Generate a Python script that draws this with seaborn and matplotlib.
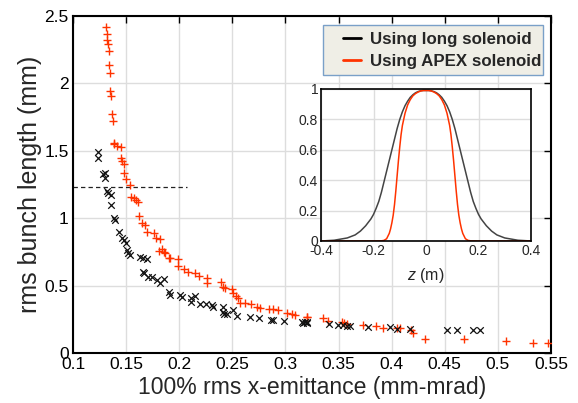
import numpy as np
import pandas as pd
import matplotlib
matplotlib.use('Agg')
import matplotlib.pyplot as plt
from matplotlib import patches
import seaborn as sns

# long solenoid scan (black x)
long_emit = [0.1238, 0.1238, 0.1285, 0.1300, 0.1300, 0.1317, 0.1330, 0.1360, 0.1355, 0.1386,
             0.1395, 0.1433, 0.1458, 0.1480, 0.1500, 0.1505, 0.1520, 0.1534, 0.1630, 0.1660,
             0.1700, 0.1660, 0.1670, 0.1710, 0.1740, 0.1788, 0.1820, 0.1860, 0.1900, 0.1910,
             0.2007, 0.2030, 0.2110, 0.2115, 0.2150, 0.2196, 0.2252, 0.2306, 0.2315, 0.2410,
             0.2415, 0.2425, 0.2452, 0.2510, 0.2540, 0.2667, 0.2750, 0.2860, 0.2886, 0.2987,
             0.3153, 0.3184, 0.3206, 0.3168, 0.3200, 0.3413, 0.3498, 0.3545, 0.3577, 0.3608,
             0.3780, 0.3980, 0.4047, 0.4173, 0.4518, 0.4612, 0.4768, 0.4832]
long_len = [1.490, 1.444, 1.328, 1.335, 1.296, 1.200, 1.185, 1.172, 1.098, 0.999,
            0.987, 0.900, 0.851, 0.838, 0.814, 0.764, 0.740, 0.727, 0.710, 0.702,
            0.697, 0.603, 0.590, 0.566, 0.566, 0.540, 0.517, 0.547, 0.455, 0.430,
            0.430, 0.418, 0.406, 0.380, 0.423, 0.363, 0.363, 0.356, 0.343, 0.339,
            0.306, 0.287, 0.290, 0.319, 0.277, 0.269, 0.257, 0.245, 0.245, 0.240,
            0.232, 0.228, 0.228, 0.225, 0.225, 0.215, 0.208, 0.208, 0.200, 0.200,
            0.190, 0.190, 0.176, 0.176, 0.171, 0.171, 0.171, 0.171]

# APEX solenoid scan (red +)
apex_emit = [0.131, 0.132, 0.132, 0.133, 0.134, 0.134, 0.135, 0.135, 0.136, 0.137,
             0.138, 0.139, 0.139, 0.141, 0.145, 0.145, 0.146, 0.148, 0.148, 0.150,
             0.154, 0.155, 0.157, 0.159, 0.1615, 0.1625, 0.1647, 0.1678, 0.170, 0.1765,
             0.1784, 0.182, 0.181, 0.184, 0.186, 0.187, 0.190, 0.1913, 0.1985, 0.1991,
             0.2045, 0.2086, 0.2149, 0.219, 0.226, 0.226, 0.2393, 0.2415, 0.243, 0.2494,
             0.251, 0.2535, 0.2556, 0.257, 0.262, 0.2673, 0.273, 0.276, 0.2848, 0.2886,
             0.2933, 0.3012, 0.306, 0.309, 0.3206, 0.3200, 0.3357, 0.3404, 0.353, 0.3555,
             0.3577, 0.3734, 0.3853, 0.3916, 0.4047, 0.4078, 0.418, 0.4198, 0.4314, 0.4684,
             0.508, 0.5328, 0.547]
apex_len = [2.416, 2.364, 2.320, 2.290, 2.240, 2.140, 2.075, 1.940, 1.905, 1.770,
            1.720, 1.560, 1.550, 1.535, 1.525, 1.450, 1.427, 1.400, 1.333, 1.293,
            1.246, 1.160, 1.147, 1.135, 1.118, 1.016, 0.962, 0.950, 0.898, 0.888,
            0.855, 0.846, 0.759, 0.772, 0.750, 0.740, 0.705, 0.702, 0.697, 0.645,
            0.620, 0.603, 0.591, 0.573, 0.559, 0.522, 0.524, 0.492, 0.480, 0.472,
            0.443, 0.423, 0.410, 0.373, 0.369, 0.361, 0.343, 0.336, 0.326, 0.324,
            0.319, 0.294, 0.289, 0.282, 0.269, 0.265, 0.257, 0.240, 0.232, 0.225,
            0.215, 0.208, 0.200, 0.188, 0.183, 0.183, 0.170, 0.146, 0.102, 0.102,
            0.091, 0.076, 0.072]

long_z_half = [-0.40, -0.35, -0.30, -0.27, -0.25, -0.23, -0.21, -0.20, -0.19, -0.18,
               -0.17, -0.16, -0.15, -0.14, -0.13, -0.12, -0.11, -0.10, -0.09, -0.08,
               -0.07, -0.06, -0.05, -0.04, -0.03, -0.02, -0.01, 0.0]
long_b_half = [0.0, 0.005, 0.02, 0.04, 0.065, 0.10, 0.145, 0.175, 0.215, 0.26,
               0.32, 0.39, 0.46, 0.53, 0.60, 0.67, 0.74, 0.80, 0.85, 0.89,
               0.92, 0.945, 0.962, 0.975, 0.983, 0.988, 0.99, 0.99]
apex_z_half = [-0.40, -0.20, -0.17, -0.16, -0.15, -0.14, -0.135, -0.13, -0.125, -0.12,
               -0.115, -0.11, -0.105, -0.10, -0.095, -0.09, -0.08, -0.07, -0.06, -0.05,
               -0.04, -0.03, -0.02, -0.01, 0.0]
apex_b_half = [0.0, 0.0, 0.001, 0.004, 0.015, 0.05, 0.08, 0.12, 0.17, 0.24,
               0.33, 0.43, 0.53, 0.62, 0.70, 0.76, 0.84, 0.895, 0.93, 0.955,
               0.97, 0.98, 0.987, 0.99, 0.99]

dash_y = 1.23
dash_x_end = 0.207

long_z = long_z_half + [-z for z in long_z_half[-2::-1]]
long_b = long_b_half + long_b_half[-2::-1]
apex_z = apex_z_half + [-z for z in apex_z_half[-2::-1]]
apex_b = apex_b_half + apex_b_half[-2::-1]

black = '#111111'
red = '#ff3300'

sns.set_style('white')
plt.rcParams['font.family'] = ['Liberation Sans', 'DejaVu Sans']
plt.rcParams['mathtext.fontset'] = 'custom'
plt.rcParams['mathtext.it'] = 'Liberation Sans:italic'
plt.rcParams['xtick.direction'] = 'in'
plt.rcParams['ytick.direction'] = 'in'

fig = plt.figure(figsize=(5.78, 4.03), dpi=100)
ax = fig.add_axes([0.1263, 0.1241, 0.827, 0.8362])

df_long = pd.DataFrame({'emit': long_emit, 'len': long_len})
df_apex = pd.DataFrame({'emit': apex_emit, 'len': apex_len})
sns.scatterplot(data=df_apex, x='emit', y='len', marker='+', s=30, color=red,
                linewidth=1.0, ax=ax, zorder=3)
sns.scatterplot(data=df_long, x='emit', y='len', marker='x', s=22, color=black,
                linewidth=0.9, ax=ax, zorder=3)
ax.hlines(dash_y, 0.1, dash_x_end, colors='#222222', linestyles=(0, (3.5, 2.5)), linewidth=0.9)

ax.set_xlim(0.1, 0.55)
ax.set_ylim(0, 2.5)
ax.set_xticks(np.arange(0.1, 0.551, 0.05))
ax.set_xticklabels(['0.1', '0.15', '0.2', '0.25', '0.3', '0.35', '0.4', '0.45', '0.5', '0.55'])
ax.set_yticks(np.arange(0, 2.51, 0.5))
ax.set_yticklabels(['0', '0.5', '1', '1.5', '2', '2.5'])
ax.grid(True, color='#dddddd', linewidth=1.0)
ax.tick_params(labelsize=12.5, top=True, right=True, length=5, width=1, colors='black', pad=3)
for s in ax.spines.values():
    s.set_linewidth(1.5)
    s.set_color('black')
ax.set_xlabel('100% rms x-emittance (mm-mrad)', fontsize=16.6, labelpad=2.5)
ax.set_ylabel('rms bunch length (mm)', fontsize=18, labelpad=1.5)

# inset
axi = fig.add_axes([0.5554, 0.402, 0.3633, 0.3772])
df_lz = pd.DataFrame({'z': long_z, 'b': long_b})
df_az = pd.DataFrame({'z': apex_z, 'b': apex_b})
sns.lineplot(data=df_lz, x='z', y='b', color='#444444', linewidth=1.1, sort=False,
             ax=axi, label='Using long solenoid')
sns.lineplot(data=df_az, x='z', y='b', color=red, linewidth=1.1, sort=False,
             ax=axi, label='Using APEX solenoid')
axi.set_xlim(-0.4, 0.4)
axi.set_ylim(0, 1)
axi.set_xticks([-0.4, -0.2, 0, 0.2, 0.4])
axi.set_xticklabels(['-0.4', '-0.2', '0', '0.2', '0.4'])
axi.set_yticks([0, 0.2, 0.4, 0.6, 0.8, 1])
axi.set_yticklabels(['0', '0.2', '0.4', '0.6', '0.8', '1'])
axi.grid(True, color='#dddddd', linewidth=1.0)
axi.tick_params(labelsize=10, length=3, pad=2)
for s in axi.spines.values():
    s.set_linewidth(1.2)
    s.set_color('black')
axi.set_ylabel('')
axi.set_xlabel('$z$ (m)', fontsize=11.5, labelpad=6)

# legend box drawn separately so the entries can sit with a wide left margin
box = patches.Rectangle((0.5588, 0.8139), 0.3806, 0.124, transform=fig.transFigure,
                        facecolor='#efeee6', edgecolor='#7aa0c8', linewidth=1.0, zorder=5)
shadow = patches.Shadow(box, 2.5, -2.5, alpha=0.35)
fig.patches.extend([shadow, box])

handles, labels = axi.get_legend_handles_labels()
axi.get_legend().remove()
leg = fig.legend(handles, labels, loc='center left',
                 bbox_to_anchor=(343 / 578, 1 - 50.5 / 403),
                 frameon=False, prop={'weight': 'bold', 'size': 12.2},
                 handlelength=1.05, handletextpad=0.55,
                 borderaxespad=0, labelspacing=0.42, borderpad=0)
leg.set_zorder(6)
for line in leg.get_lines():
    line.set_linewidth(2)
leg.get_lines()[0].set_color('black')

fig.savefig('out.png', dpi=100)
